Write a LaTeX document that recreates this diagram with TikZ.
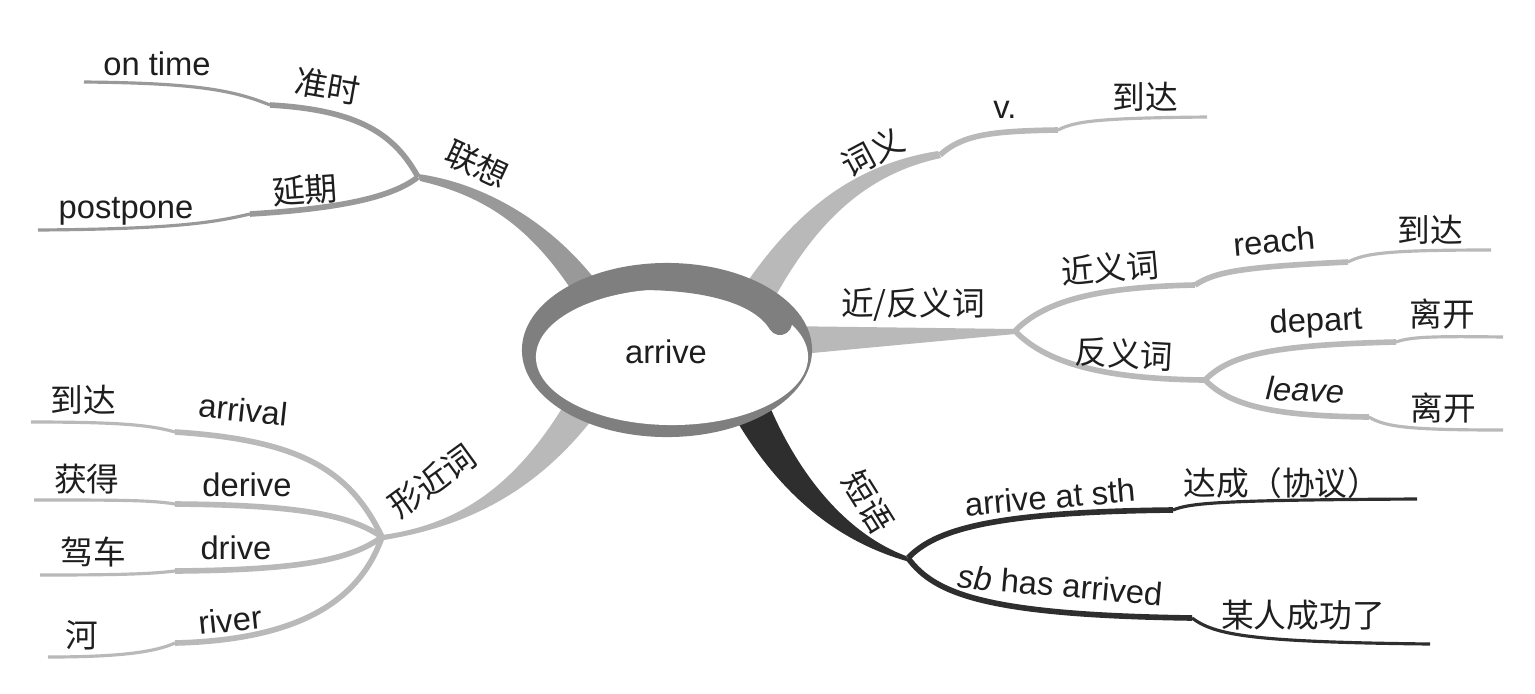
\documentclass[tikz,border=0pt]{standalone}
\usepackage{fontspec}
\setmainfont{Liberation Sans}
\newfontfamily\cjk{Noto Sans CJK SC}
\usepackage{tikz}
\usetikzlibrary{positioning}
\definecolor{ringgray}{HTML}{7F7F7F}
\definecolor{assoc}{HTML}{999999}
\definecolor{pale}{HTML}{B9B9B9}
\definecolor{phrase}{HTML}{2E2E2E}
\definecolor{ink}{HTML}{1E1E1E}

\begin{document}
\begin{tikzpicture}[x=0.01cm, y=-0.01cm,
    en/.style={font=\fontsize{9.3}{11}\selectfont, text=ink, inner sep=0pt},
    cn/.style={font=\cjk\fontsize{9.3}{11}\selectfont, text=ink, inner sep=0pt},
    stem/.style={line width=1.6pt},
    twig/.style={line width=0.9pt}]
  \useasboundingbox (0,0) rectangle (1535,693);
  % junctions
  \coordinate (jA) at (418,177);
  \coordinate (jM) at (940,155);
  \coordinate (jS) at (1015,331);
  \coordinate (jN) at (1205,380);
  \coordinate (jF) at (382,537);
  \coordinate (jP) at (908,558);
  % main branches
  \fill[assoc] (418,174) .. controls (485,183) and (560,225) .. (610,300)
    -- (578,300) .. controls (535,232) and (490,197) .. (420,181) -- cycle;
  \fill[pale] (735,300) .. controls (790,215) and (850,165) .. (938,151)
    -- (941,158) .. controls (860,175) and (810,230) .. (768,310) -- cycle;
  \fill[pale] (780,326) -- (1015,329) -- (1015,334) -- (780,356) -- cycle;
  \fill[pale] (382,535) .. controls (455,525) and (515,490) .. (570,395)
    -- (603,405) .. controls (535,500) and (455,528) .. (384,540) -- cycle;
  \fill[phrase] (725,400) .. controls (770,485) and (830,540) .. (910,562)
    -- (906,556) .. controls (850,535) and (800,480) .. (767,400) -- cycle;
  % centre
  \fill[ringgray] (667,350) ellipse [x radius=1.45cm, y radius=0.87cm];
  \fill[white] (672,357) ellipse [x radius=1.36cm, y radius=0.68cm];
  \draw[ringgray, line width=0.24cm, line cap=round]
    (640,278) .. controls (710,278) and (762,293) .. (780,323);
  \node[en] (hub) at (666,352) {arrive};

  % 联想
  \coordinate (kOn) at (270,105);
  \coordinate (eOn) at (84,82);
  \coordinate (kPost) at (250,214);
  \coordinate (ePost) at (38,230);
  \draw[assoc, stem] (jA) .. controls (395,135) and (360,110) .. (kOn);
  \draw[assoc, twig] (kOn) .. controls (235,91) and (200,83) .. (eOn);
  \draw[assoc, stem] (jA) .. controls (395,195) and (350,208) .. (kPost);
  \draw[assoc, twig] (kPost) .. controls (215,222) and (180,229) .. (ePost);
  \node[en] (ontime) at (157,64) {on time};
  \node[cn, rotate=-10] (zhunshi) at (328,86) {准时};
  \node[cn, rotate=-25] (lianxiang) at (477,164) {联想};
  \node[cn, rotate=4] (yanqi) at (305,190) {延期};
  \node[en] (postpone) at (126,211) {postpone};

  % 词义
  \coordinate (kV) at (1058,130);
  \coordinate (eV) at (1207,117);
  \draw[pale, stem] (jM) .. controls (962,135) and (990,131) .. (kV);
  \draw[pale, twig] (kV) .. controls (1075,121) and (1100,118) .. (eV);
  \node[cn, rotate=28] (ciyi) at (873,152) {词义};
  \node[en] (verb) at (1005,110) {v.};
  \node[cn] (daoda1) at (1145,97) {到达};

  % 近/反义词
  \coordinate (kSyn) at (1195,285);
  \coordinate (kReach) at (1348,262);
  \coordinate (eReach) at (1491,250);
  \coordinate (kDep) at (1396,342);
  \coordinate (eDep) at (1503,337);
  \coordinate (kLeave) at (1369,417);
  \coordinate (eLeave) at (1503,430);
  \draw[pale, stem] (jS) .. controls (1045,300) and (1100,287) .. (kSyn);
  \draw[pale, stem] (kSyn) .. controls (1215,272) and (1240,267) .. (kReach);
  \draw[pale, twig] (kReach) .. controls (1365,253) and (1390,250) .. (eReach);
  \draw[pale, stem] (jS) .. controls (1045,362) and (1100,379) .. (jN);
  \draw[pale, stem] (jN) .. controls (1230,355) and (1270,345) .. (kDep);
  \draw[pale, twig] (kDep) .. controls (1410,337) and (1430,336) .. (eDep);
  \draw[pale, stem] (jN) .. controls (1230,405) and (1270,416) .. (kLeave);
  \draw[pale, twig] (kLeave) .. controls (1385,427) and (1410,430) .. (eLeave);
  \node[cn] (jinfan) at (913,305) {近/反义词};
  \node[cn, rotate=5] (jinyi) at (1110,268) {近义词};
  \node[en, rotate=5] (reach) at (1274,241) {reach};
  \node[cn] (daoda2) at (1430,230) {到达};
  \node[cn, rotate=-3] (fanyi) at (1124,354) {反义词};
  \node[en, rotate=3] (depart) at (1316,323) {depart};
  \node[cn] (likai1) at (1442,314) {离开};
  \node[en, rotate=-3] (leave) at (1305,390) {\itshape leave};
  \node[cn] (likai2) at (1443,408) {离开};

  % 形近词
  \coordinate (kAl) at (175,432);
  \coordinate (eAl) at (31,422);
  \coordinate (kDe) at (175,504);
  \coordinate (eDe) at (34,500);
  \coordinate (kDr) at (175,571);
  \coordinate (eDr) at (40,575);
  \coordinate (kRi) at (175,643);
  \coordinate (eRi) at (48,657);
  \draw[pale, stem] (jF) .. controls (350,470) and (300,440) .. (kAl);
  \draw[pale, twig] (kAl) .. controls (150,425) and (120,422) .. (eAl);
  \draw[pale, stem] (jF) .. controls (350,515) and (300,505) .. (kDe);
  \draw[pale, twig] (kDe) .. controls (150,500) and (120,500) .. (eDe);
  \draw[pale, stem] (jF) .. controls (350,560) and (300,570) .. (kDr);
  \draw[pale, twig] (kDr) .. controls (150,574) and (120,575) .. (eDr);
  \draw[pale, stem] (jF) .. controls (360,600) and (300,640) .. (kRi);
  \draw[pale, twig] (kRi) .. controls (155,652) and (120,657) .. (eRi);
  \node[cn, rotate=36] (xingjin) at (432,481) {形近词};
  \node[cn] (daoda3) at (83,400) {到达};
  \node[en, rotate=-6] (arrival) at (243,410) {arrival};
  \node[cn] (huode) at (87,479) {获得};
  \node[en] (derive) at (247,485) {derive};
  \node[cn] (jiache) at (93,552) {驾车};
  \node[en] (drive) at (236,548) {drive};
  \node[cn] (he) at (82,635) {河};
  \node[en, rotate=6] (river) at (230,620) {river};

  % 短语
  \coordinate (kAt) at (1173,510);
  \coordinate (eAt) at (1417,499);
  \coordinate (kHas) at (1192,618);
  \coordinate (eHas) at (1430,644);
  \draw[phrase, stem] (jP) .. controls (935,530) and (990,512) .. (kAt);
  \draw[phrase, twig] (kAt) .. controls (1190,503) and (1220,500) .. (eAt);
  \draw[phrase, stem] (jP) .. controls (935,595) and (990,615) .. (kHas);
  \draw[phrase, twig] (kHas) .. controls (1215,635) and (1250,642) .. (eHas);
  \node[cn, rotate=-58] (duanyu) at (868,502) {短语};
  \node[en, rotate=5] (arriveat) at (1050,497) {arrive at sth};
  \node[cn] (dacheng) at (1282,483) {达成（协议）};
  \node[en, rotate=-5] (arrived) at (1060,585) {{\itshape sb} has arrived};
  \node[cn] (chenggong) at (1303,615) {某人成功了};
\end{tikzpicture}
\end{document}
